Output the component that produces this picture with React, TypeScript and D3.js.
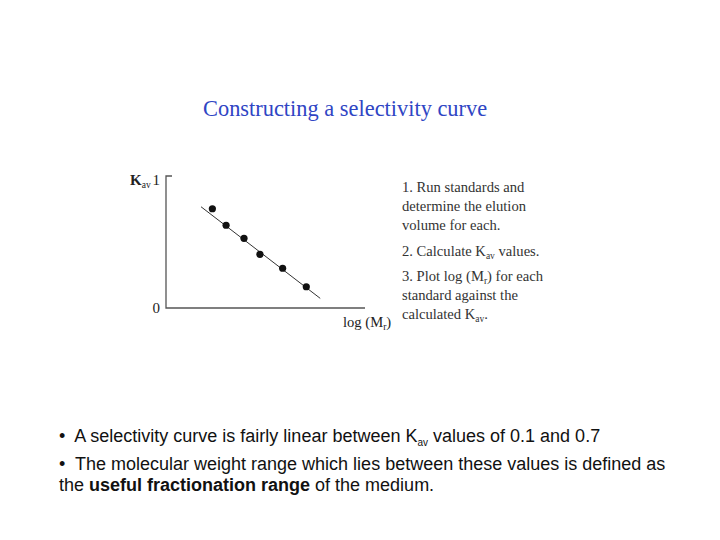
import React from "react";
import { scaleLinear, line } from "d3";

// standards: log(Mr) in arbitrary units, Kav
const logMr = [2.33, 3.02, 3.92, 4.72, 5.86, 7.05];
const kav = [0.752, 0.627, 0.528, 0.407, 0.301, 0.161];
// fitted line end points
const fitX = [1.76, 7.75];
const fitY = [0.767, 0.073];
const yTicks = [0, 1];

const steps = [
  ["1. Run standards and"],
  ["determine the elution"],
  ["volume for each."],
];

export default function App() {
  const x = scaleLinear().domain([0, 10]).range([166, 365]);
  const y = scaleLinear().domain([0, 1]).range([308, 176]);
  const fit = line<number>()
    .x((d) => x(d))
    .y((_, i) => y(fitY[i]));

  const serif = "'Liberation Serif', 'Times New Roman', serif";
  const sans = "'Liberation Sans', Arial, sans-serif";

  return (
    <svg
      width={720}
      height={540}
      style={{ position: "absolute", left: 0, top: 0, background: "#fff" }}
    >
      <text x={203} y={116} fontFamily={serif} fontSize={22.4} fill="#2f45c4">
        Constructing a selectivity curve
      </text>

      {/* axes */}
      <g stroke="#555" strokeWidth={1.3} fill="none">
        <path d={`M${x(0) + 6},${y(1)}H${x(0)}V${y(0)}H${x(10)}`} />
      </g>
      {yTicks.map((t) => (
        <text
          key={t}
          x={x(0) - 6}
          y={t === 1 ? y(t) + 9 : y(t) + 5}
          textAnchor="end"
          fontFamily={serif}
          fontSize={15}
          fill="#222"
        >
          {t}
        </text>
      ))}
      <text x={130} y={185} fontFamily={serif} fontSize={15} fill="#222">
        <tspan fontWeight="bold">K</tspan>
        <tspan fontSize={9.5} dy={3}>av</tspan>
      </text>
      <text x={343} y={327} fontFamily={serif} fontSize={14.6} fill="#222">
        log (M<tspan fontSize={9.5} dy={3}>r</tspan>
        <tspan dy={-3}>)</tspan>
      </text>

      <path d={fit(fitX) ?? ""} stroke="#333" strokeWidth={1} fill="none" />
      {logMr.map((d, i) => (
        <circle key={i} cx={x(d)} cy={y(kav[i])} r={3.6} fill="#111" />
      ))}

      {/* steps */}
      <g fontFamily={serif} fontSize={14.6} fill="#333">
        {steps.map((s, i) => (
          <text key={i} x={402} y={192 + i * 19}>
            {s[0]}
          </text>
        ))}
        <text x={402} y={256}>
          2. Calculate K<tspan fontSize={9.5} dy={3}>av</tspan>
          <tspan dy={-3}> values.</tspan>
        </text>
        <text x={402} y={281}>
          3. Plot log (M<tspan fontSize={9.5} dy={3}>r</tspan>
          <tspan dy={-3}>) for each</tspan>
        </text>
        <text x={402} y={300}>standard against the</text>
        <text x={402} y={319}>
          calculated K<tspan fontSize={9.5} dy={3}>av</tspan>
          <tspan dy={-3}>.</tspan>
        </text>
      </g>

      {/* notes */}
      <g fontFamily={sans} fontSize={18} fill="#111">
        <text x={59} y={442}>
          {"•\u00a0 A selectivity curve is fairly linear between K"}
          <tspan fontSize={10} dy={4}>av</tspan>
          <tspan dy={-4}>{"\u00a0values of 0.1 and 0.7"}</tspan>
        </text>
        <text x={59} y={470}>
          {"•\u00a0 The molecular weight range which lies between these values is defined as"}
        </text>
        <text x={59} y={491}>
          {"the "}
          <tspan fontWeight="bold">useful fractionation range</tspan>
          {"\u00a0of the medium."}
        </text>
      </g>
    </svg>
  );
}
